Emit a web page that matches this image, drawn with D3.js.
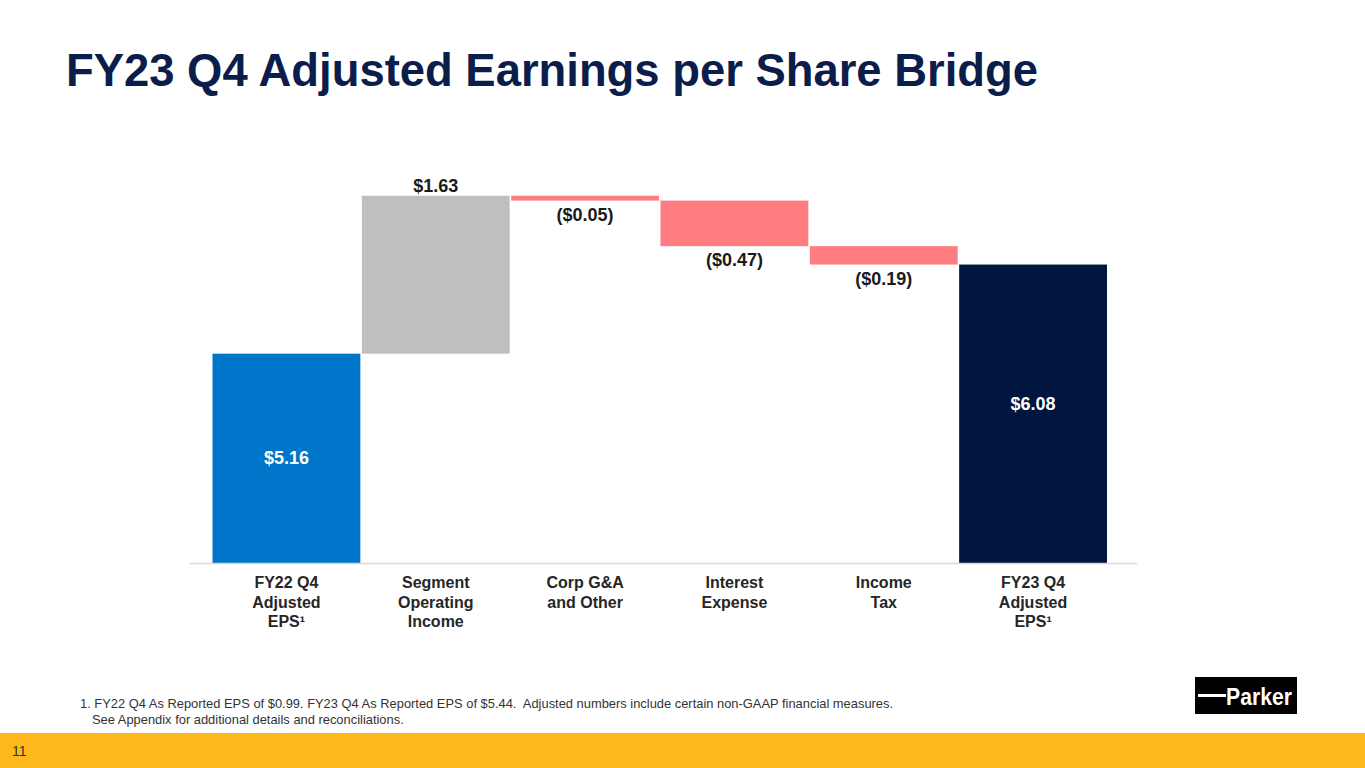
<!DOCTYPE html>
<html>
<head>
<meta charset="utf-8">
<script src="https://cdn.jsdelivr.net/npm/d3@7"></script>
<style>
  body { margin: 0; background: #fff; }
  svg { display: block; font-family: "Liberation Sans", Arial, sans-serif; }
</style>
</head>
<body>
<div id="chart"></div>
<script>
const categories = ["FY22 Q4 Adjusted EPS", "Segment Operating Income", "Corp G&A and Other", "Interest Expense", "Income Tax", "FY23 Q4 Adjusted EPS"];
const categoryLines = [["FY22 Q4", "Adjusted", "EPS\u00b9"], ["Segment", "Operating", "Income"], ["Corp G&A", "and Other"], ["Interest", "Expense"], ["Income", "Tax"], ["FY23 Q4", "Adjusted", "EPS\u00b9"]];
const values = [5.16, 1.63, -0.05, -0.47, -0.19, 6.08];
const kinds = ["total", "up", "down", "down", "down", "total"];
const valueLabels = ["$5.16", "$1.63", "($0.05)", "($0.47)", "($0.19)", "$6.08"];

const width = 1365;
const height = 768;
const colors = { total0: "#0076ca", up: "#bfbfbf", down: "#ff7c80", total1: "#00163f" };

// running totals for the bridge
let run = 0;
const bars = values.map((v, i) => {
  let y0, y1;
  if (kinds[i] === "total") { y0 = 3; y1 = v; run = v; }
  else { y0 = run; y1 = run + v; run = y1; }
  return { cat: categories[i], lines: categoryLines[i], v, kind: kinds[i], lo: Math.min(y0, y1), hi: Math.max(y0, y1), label: valueLabels[i], i };
});

const svg = d3.select("#chart").append("svg")
  .attr("width", width)
  .attr("height", height);

svg.append("text")
  .attr("x", 66)
  .attr("y", 86)
  .attr("font-size", 45.4)
  .attr("font-weight", "bold")
  .attr("fill", "#0b1d4a")
  .text("FY23 Q4 Adjusted Earnings per Share Bridge");

const x = d3.scaleBand()
  .domain(categories)
  .range([212.5, 1107])
  .paddingInner(0.01);

const y = d3.scaleLinear()
  .domain([3, 7])
  .range([563, 175.4]);

svg.selectAll(".bar")
  .data(bars)
  .enter()
  .append("rect")
  .attr("class", "bar")
  .attr("x", d => x(d.cat))
  .attr("y", d => y(d.hi))
  .attr("width", x.bandwidth())
  .attr("height", d => y(d.lo) - y(d.hi))
  .attr("fill", d => d.kind === "total" ? (d.i === 0 ? colors.total0 : colors.total1) : colors[d.kind]);

// baseline
svg.append("line")
  .attr("x1", 190).attr("x2", 1137)
  .attr("y1", y(3) + 0.5).attr("y2", y(3) + 0.5)
  .attr("stroke", "#d9d9d9")
  .attr("stroke-width", 1.5);

svg.selectAll(".vlabel")
  .data(bars)
  .enter()
  .append("text")
  .attr("class", "vlabel")
  .attr("x", d => x(d.cat) + x.bandwidth() / 2)
  .attr("y", d => {
    if (d.kind === "total") return (y(d.lo) + y(d.hi)) / 2 + 6 - (d.i === 0 ? 0 : 10);
    if (d.kind === "up") return y(d.hi) - 4;
    return y(d.lo) + 20;
  })
  .attr("text-anchor", "middle")
  .attr("font-size", 18)
  .attr("font-weight", "bold")
  .attr("fill", d => d.kind === "total" ? "#ffffff" : "#1a1a1a")
  .text(d => d.label);

const catText = svg.selectAll(".clabel")
  .data(bars)
  .enter()
  .append("text")
  .attr("class", "clabel")
  .attr("text-anchor", "middle")
  .attr("font-size", 16)
  .attr("font-weight", "bold")
  .attr("fill", "#262626");

catText.selectAll("tspan")
  .data(d => d.lines.map(l => ({ l, cx: x(d.cat) + x.bandwidth() / 2 })))
  .enter()
  .append("tspan")
  .attr("x", t => t.cx)
  .attr("y", (t, j) => 588 + j * 19.5)
  .text(t => t.l);

// footnote
const foot = svg.append("text")
  .attr("font-size", 12.9)
  .attr("fill", "#333")
  .style("white-space", "pre");
foot.append("tspan").attr("x", 80).attr("y", 708)
  .text("1. FY22 Q4 As Reported EPS of $0.99. FY23 Q4 As Reported EPS of $5.44.\u00a0 Adjusted numbers include certain non-GAAP financial measures.");
foot.append("tspan").attr("x", 92).attr("y", 724)
  .text("See Appendix for additional details and reconciliations.");

// logo
const logo = svg.append("g");
logo.append("rect")
  .attr("x", 1195).attr("y", 677)
  .attr("width", 102).attr("height", 37)
  .attr("fill", "#000");
logo.append("rect")
  .attr("x", 1198).attr("y", 694)
  .attr("width", 28).attr("height", 3)
  .attr("fill", "#fff");
logo.append("text")
  .attr("x", 1226).attr("y", 705)
  .attr("font-size", 23)
  .attr("font-weight", "bold")
  .attr("textLength", 66)
  .attr("lengthAdjust", "spacingAndGlyphs")
  .attr("fill", "#fff")
  .text("Parker");

// footer band
svg.append("rect")
  .attr("x", 0).attr("y", 733)
  .attr("width", width).attr("height", 35)
  .attr("fill", "#ffb81c");
svg.append("text")
  .attr("x", 12).attr("y", 756)
  .attr("font-size", 14)
  .attr("fill", "#333")
  .text("11");
</script>
</body>
</html>
